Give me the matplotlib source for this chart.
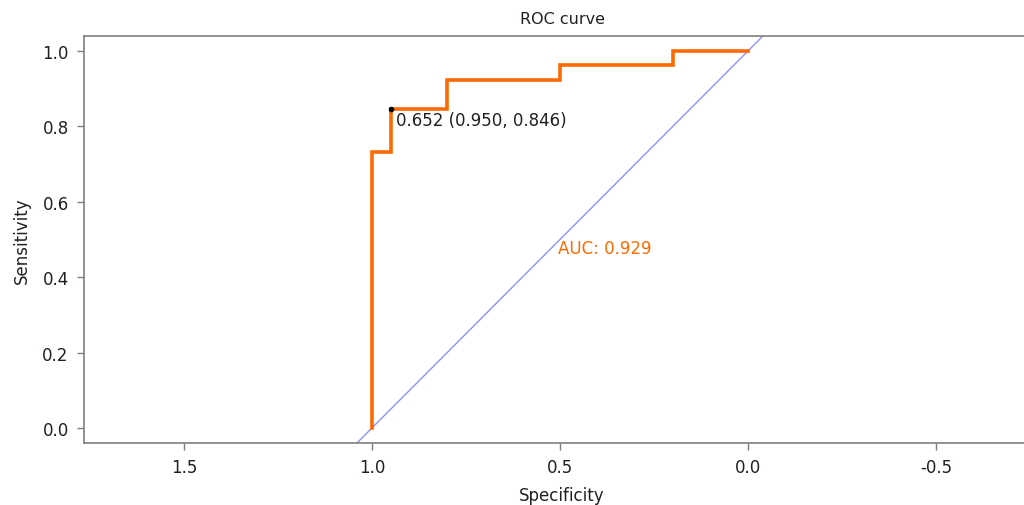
import numpy as np
import matplotlib
matplotlib.use("Agg")
import matplotlib.pyplot as plt

# ---------- data ----------
specificity = [1.0, 1.0, 0.95, 0.95, 0.80, 0.80, 0.50, 0.50, 0.20, 0.20, 0.0]
sensitivity = [0.0, 0.731, 0.731, 0.846, 0.846, 0.923, 0.923, 0.962, 0.962, 1.0, 1.0]
best_point = (0.950, 0.846)
best_label = "0.652 (0.950, 0.846)"
auc_label = "AUC: 0.929"
x_ticks = [1.5, 1.0, 0.5, 0.0, -0.5]
y_ticks = [0.0, 0.2, 0.4, 0.6, 0.8, 1.0]

orange = "#ff6a00"
gray = "#7f7f7f"
txt = "#231f20"

plt.rcParams["font.family"] = ["DejaVu Sans"]
plt.rcParams["font.size"] = 12

fig = plt.figure(figsize=(10.24, 5.06), dpi=100)
ax = fig.add_axes([84 / 1024, 1 - 444 / 506, (1040 - 84) / 1024, (444 - 37) / 506])

# diagonal of chance
diag = np.array([-1.0, 2.0])
ax.plot(diag, 1 - diag, color="#9090ff", lw=1.0, zorder=1)

ax.plot(specificity, sensitivity, color=orange, lw=2.6, zorder=3,
        solid_joinstyle="miter")
ax.plot(*best_point, "o", color="black", ms=3, zorder=4)
ax.text(best_point[0] - 0.015, best_point[1] - 0.03, best_label,
        color=txt, ha="left", va="center")
ax.text(0.505, 0.477, auc_label, color=orange, ha="left", va="center")

ax.set_xlim(1.766, -0.777)
ax.set_ylim(-0.04, 1.04)
ax.set_xticks(x_ticks)
ax.set_yticks(y_ticks)
ax.set_xticklabels([f"{v:.1f}" for v in x_ticks])
ax.set_yticklabels([f"{v:.1f}" for v in y_ticks])

for s in ax.spines.values():
    s.set_color(gray)
    s.set_linewidth(1.2)
ax.spines["right"].set_visible(False)
ax.tick_params(colors=gray, labelcolor=txt, length=5, width=1, pad=6)

ax.set_title("ROC curve", color=txt, fontsize=11.5, pad=9)
ax.set_xlabel("Specificity", color=txt, labelpad=7)
ax.set_ylabel("Sensitivity", color=txt, labelpad=8)

fig.savefig("out.png", dpi=100)
